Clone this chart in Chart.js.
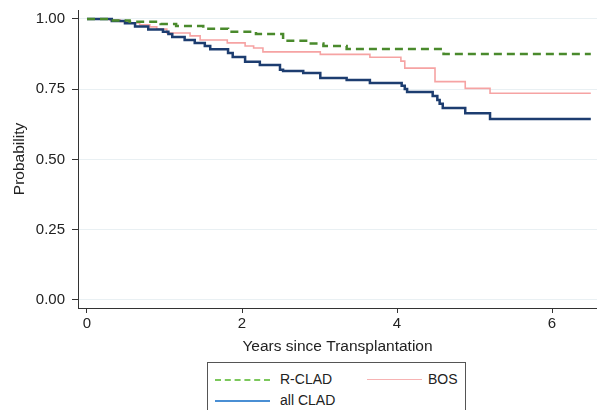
<!DOCTYPE html>
<html>
<head>
<meta charset="utf-8">
<script src="https://cdn.jsdelivr.net/npm/chart.js@4/dist/chart.umd.min.js"></script>
<style>
  html, body { margin: 0; padding: 0; background: #ffffff; }
  #wrap { position: relative; width: 597px; height: 410px; overflow: hidden; }
  canvas { display: block; }
  #legend { position: absolute; left: 207px; top: 362px; width: 259px; height: 60px;
            border: 1px solid #555; box-sizing: border-box; background: #fff;
            font-family: "Liberation Sans", Arial, sans-serif; font-size: 14px; color: #222; }
  .sample { position: absolute; top: 8px; width: 55px; height: 0; }
  .lbl { position: absolute; white-space: nowrap; }
</style>
</head>
<body>
<div id="wrap">
  <canvas id="c" width="597" height="410"></canvas>
  <div id="legend"></div>
</div>
<script>
// ---- data ----
const seriesNames = ["R-CLAD", "all CLAD", "BOS"];

const rcladTimes = [0, 0.28, 0.55, 0.95, 1.15, 1.50, 1.82, 2.18, 2.53, 2.85, 3.05, 3.35, 4.60, 6.50];
const rcladSurv  = [1.000, 0.995, 0.990, 0.982, 0.975, 0.965, 0.955, 0.947, 0.923, 0.913, 0.904, 0.893, 0.875, 0.875];

const bosTimes = [0, 0.30, 0.43, 0.55, 0.68, 0.81, 0.90, 1.03, 1.33, 1.46, 1.81, 2.04, 2.15, 2.27, 3.01, 3.65, 4.05, 4.10, 4.49, 4.88, 5.20, 6.50];
const bosSurv  = [1.000, 0.996, 0.991, 0.986, 0.979, 0.972, 0.964, 0.950, 0.940, 0.925, 0.915, 0.904, 0.897, 0.883, 0.874, 0.864, 0.850, 0.825, 0.777, 0.753, 0.736, 0.736];

const allTimes = [0, 0.32, 0.49, 0.62, 0.79, 0.98, 1.05, 1.10, 1.26, 1.39, 1.52, 1.59, 1.82, 1.88, 2.04, 2.23, 2.49, 2.53, 2.79, 3.01, 3.35, 3.65, 4.06, 4.10, 4.13, 4.46, 4.52, 4.55, 4.59, 4.88, 5.20, 6.50];
const allSurv  = [1.000, 0.993, 0.985, 0.973, 0.963, 0.955, 0.947, 0.936, 0.925, 0.915, 0.904, 0.892, 0.879, 0.865, 0.848, 0.836, 0.819, 0.815, 0.808, 0.790, 0.783, 0.772, 0.762, 0.751, 0.740, 0.726, 0.712, 0.698, 0.683, 0.665, 0.644, 0.644];

const xTickValues = [0, 2, 4, 6];
const yTickValues = [0, 0.25, 0.5, 0.75, 1.0];

const xTitle = "Years since Transplantation";
const yTitle = "Probability";

// ---- build ----
function pts(ts, vs) { return ts.map((t, i) => ({ x: t, y: vs[i] })); }

const FONT = "'Liberation Sans', Arial, sans-serif";

const chart = new Chart(document.getElementById('c'), {
  type: 'line',
  data: {
    datasets: [
      { label: seriesNames[0], data: pts(rcladTimes, rcladSurv), borderColor: '#4a8a2c',
        borderWidth: 2.5, borderDash: [8, 5], stepped: 'before', pointRadius: 0, fill: false },
      { label: seriesNames[1], data: pts(allTimes, allSurv), borderColor: '#1d3d70',
        borderWidth: 2.5, stepped: 'before', pointRadius: 0, fill: false },
      { label: seriesNames[2], data: pts(bosTimes, bosSurv), borderColor: '#f6a3a3',
        borderWidth: 1.6, stepped: 'before', pointRadius: 0, fill: false }
    ]
  },
  options: {
    responsive: false,
    animation: false,
    layout: { padding: { left: 0, right: 0, top: 10, bottom: 52 } },
    plugins: { legend: { display: false }, tooltip: { enabled: false } },
    scales: {
      x: {
        type: 'linear', min: -0.116, max: 6.58,
        afterBuildTicks: s => { s.ticks = xTickValues.map(v => ({ value: v })); },
        afterFit: s => { s.height = 50; s.paddingLeft = 0; s.paddingRight = 0; },
        ticks: { color: '#222', font: { family: FONT, size: 15 }, padding: 2, maxRotation: 0,
                 callback: v => String(v) },
        grid: { drawOnChartArea: false, drawTicks: true, tickLength: 5, tickColor: '#333' },
        border: { display: true, color: '#333', width: 1 },
        title: { display: true, text: xTitle, color: '#222', font: { family: FONT, size: 15.5 },
                 padding: { top: 0, bottom: 2 } }
      },
      y: {
        type: 'linear', min: -0.0285, max: 1.032,
        afterBuildTicks: s => { s.ticks = yTickValues.map(v => ({ value: v })); },
        afterFit: s => { s.width = 78; s.paddingTop = 0; s.paddingBottom = 0; },
        ticks: { color: '#222', font: { family: FONT, size: 15 }, padding: 7,
                 callback: v => Number(v).toFixed(2) },
        grid: { color: '#e9f0f3', lineWidth: 1, drawTicks: true, tickLength: 6, tickColor: '#333' },
        border: { display: true, color: '#333', width: 1 },
        title: { display: true, text: yTitle, color: '#222', font: { family: FONT, size: 15.5 },
                 padding: { top: 10, bottom: 0 } }
      }
    }
  }
});

// ---- legend (HTML text) ----
const legendItems = [
  { name: seriesNames[0], color: '#7cc85c', style: 'dashed', w: 2,   left: 7,   top: 7,  tl: 72 },
  { name: seriesNames[2], color: '#f7b3b3', style: 'solid',  w: 1.5, left: 159, top: 7,  tl: 220 },
  { name: seriesNames[1], color: '#4a8fd4', style: 'solid',  w: 2,   left: 7,   top: 28, tl: 72 }
];
const lg = document.getElementById('legend');
legendItems.forEach(it => {
  const s = document.createElement('div');
  s.className = 'sample';
  s.style.left = it.left + 'px';
  s.style.top = (it.top + 9) + 'px';
  s.style.borderTop = it.w + 'px ' + it.style + ' ' + it.color;
  lg.appendChild(s);
  const l = document.createElement('div');
  l.className = 'lbl';
  l.style.left = it.tl + 'px';
  l.style.top = it.top + 'px';
  l.style.lineHeight = '18px';
  l.textContent = it.name;
  lg.appendChild(l);
});
</script>
</body>
</html>
